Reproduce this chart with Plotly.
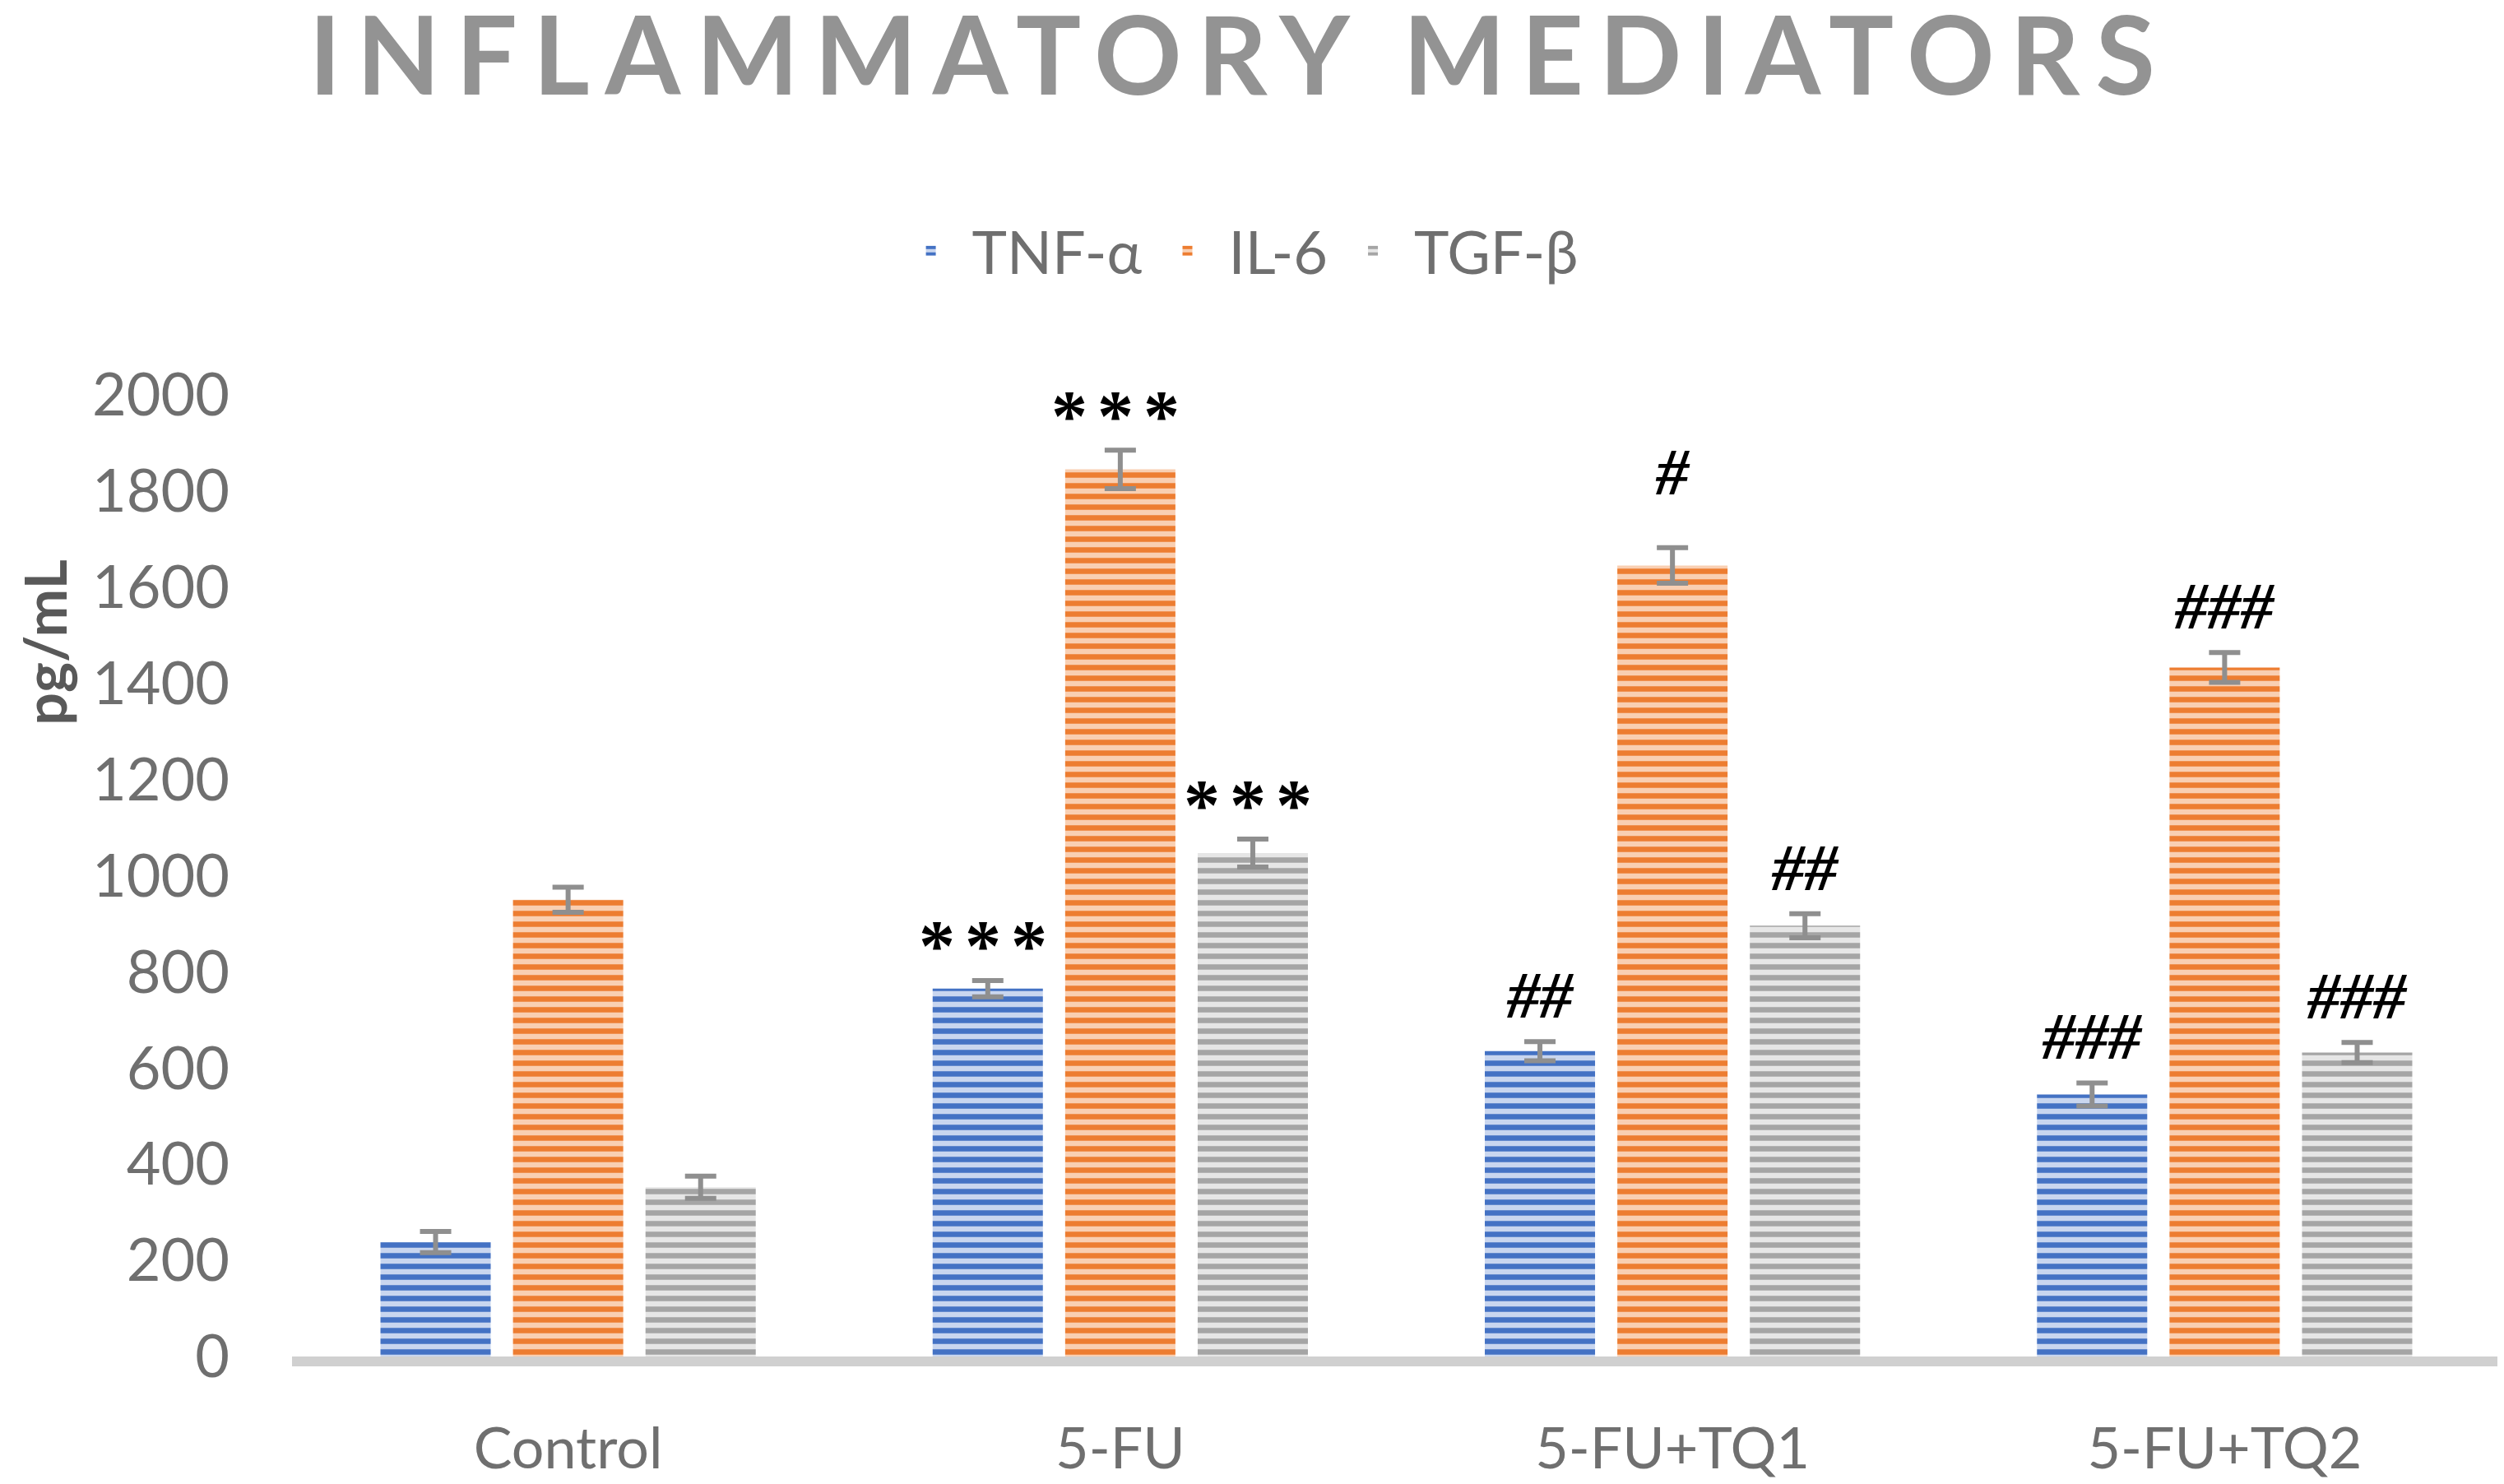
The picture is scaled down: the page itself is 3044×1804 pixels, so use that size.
import plotly.graph_objects as go

# groups on the x axis
groups = ["Control", "5-FU", "5-FU+TQ1", "5-FU+TQ2"]

# mean values (pg/mL)
tnf_alpha = [238, 765, 635, 545]
il_6 = [950, 1845, 1645, 1433]
tgf_beta = [352, 1047, 896, 632]

# error bar half-lengths
tnf_alpha_err = [22, 17, 20, 24]
il_6_err = [26, 40, 37, 31]
tgf_beta_err = [23, 29, 25, 21]

# significance marks above each bar
tnf_alpha_marks = ["", "***", "##", "###"]
il_6_marks = ["", "***", "#", "###"]
tgf_beta_marks = ["", "***", "##", "###"]

series_names = ["TNF-α", "IL-6", "TGF-β"]

BARGAP = 0.28
BARGROUPGAP = 0.168

styles = [
    {"fg": "#4472C4", "bg": "#C9D6EF"},
    {"fg": "#ED7D31", "bg": "#F9CFB2"},
    {"fg": "#A5A5A5", "bg": "#E6E6E6"},
]

fig = go.Figure()
series = [
    (tnf_alpha, tnf_alpha_err, tnf_alpha_marks),
    (il_6, il_6_err, il_6_marks),
    (tgf_beta, tgf_beta_err, tgf_beta_marks),
]
for k, (values, errors, marks) in enumerate(series):
    fig.add_trace(
        go.Bar(
            x=groups,
            y=values,
            name=series_names[k],
            marker={
                "color": styles[k]["bg"],
                "line": {"width": 0},
                "pattern": {
                    "shape": "-",
                    "fillmode": "replace",
                    "fgcolor": styles[k]["fg"],
                    "bgcolor": styles[k]["bg"],
                    "size": 13,
                    "solidity": 0.5,
                },
            },
            error_y={
                "type": "data",
                "array": errors,
                "visible": True,
                "color": "#8F8F8F",
                "thickness": 6,
                "width": 19,
            },
            cliponaxis=False,
        )
    )

# slot width of one bar inside a group, in category units
slot = (1 - BARGAP) / len(series)
for k, (values, errors, marks) in enumerate(series):
    for i, mark in enumerate(marks):
        if not mark:
            continue
        if "*" in mark:
            text = '<span style="letter-spacing:12px"><b>' + mark + "</b></span>"
            shift, size = 42, 88
        else:
            text = "<b><i>" + mark + "</i></b>"
            shift, size = (92 if len(mark) == 1 else 56), 80
        fig.add_annotation(
            x=i + (k - 1) * slot,
            y=values[i] + errors[i],
            xref="x",
            yref="y",
            text=text,
            showarrow=False,
            yanchor="middle",
            yshift=shift,
            font={"family": "Liberation Serif", "size": size, "color": "#000000"},
        )

# y axis title, placed high as in the source chart
fig.add_annotation(
    x=-0.112,
    y=0.743,
    xref="paper",
    yref="paper",
    xanchor="center",
    yanchor="middle",
    text="<b>pg/mL</b>",
    textangle=-90,
    showarrow=False,
    font={"family": "Lato", "size": 70, "color": "#595959"},
)

fig.update_layout(
    width=3044,
    height=1804,
    margin={"l": 347, "r": 12, "t": 472, "b": 144},
    paper_bgcolor="white",
    plot_bgcolor="white",
    barmode="group",
    bargap=BARGAP,
    bargroupgap=BARGROUPGAP,
    font={"family": "Lato", "color": "#6F6F6F"},
    title={
        "text": '<span style="letter-spacing:19px"><b>INFLAMMATORY MEDIATORS</b></span>',
        "xref": "container",
        "yref": "container",
        "x": 0.4925,
        "xanchor": "center",
        "y": 0.992,
        "yanchor": "top",
        "pad": {"t": 0},
        "font": {"family": "Lato", "size": 132, "color": "#939393"},
    },
    legend={
        "orientation": "h",
        "xref": "container",
        "yref": "container",
        "x": 0.491,
        "xanchor": "center",
        "y": 1 - 297 / 1804,
        "yanchor": "middle",
        "font": {"family": "Lato", "size": 72, "color": "#6F6F6F"},
        "itemwidth": 90,
    },
    showlegend=True,
)

fig.update_xaxes(
    showgrid=False,
    showline=True,
    linecolor="#D0D0D0",
    linewidth=12,
    ticks="",
    ticklabelstandoff=40,
    tickfont={"family": "Lato", "size": 70, "color": "#6F6F6F"},
)
fig.update_yaxes(
    range=[0, 2000],
    dtick=200,
    showgrid=False,
    zeroline=False,
    showline=False,
    ticks="",
    ticklabelstandoff=75,
    tickfont={"family": "Lato", "size": 72, "color": "#6F6F6F"},
)

fig.write_html("out.html")
